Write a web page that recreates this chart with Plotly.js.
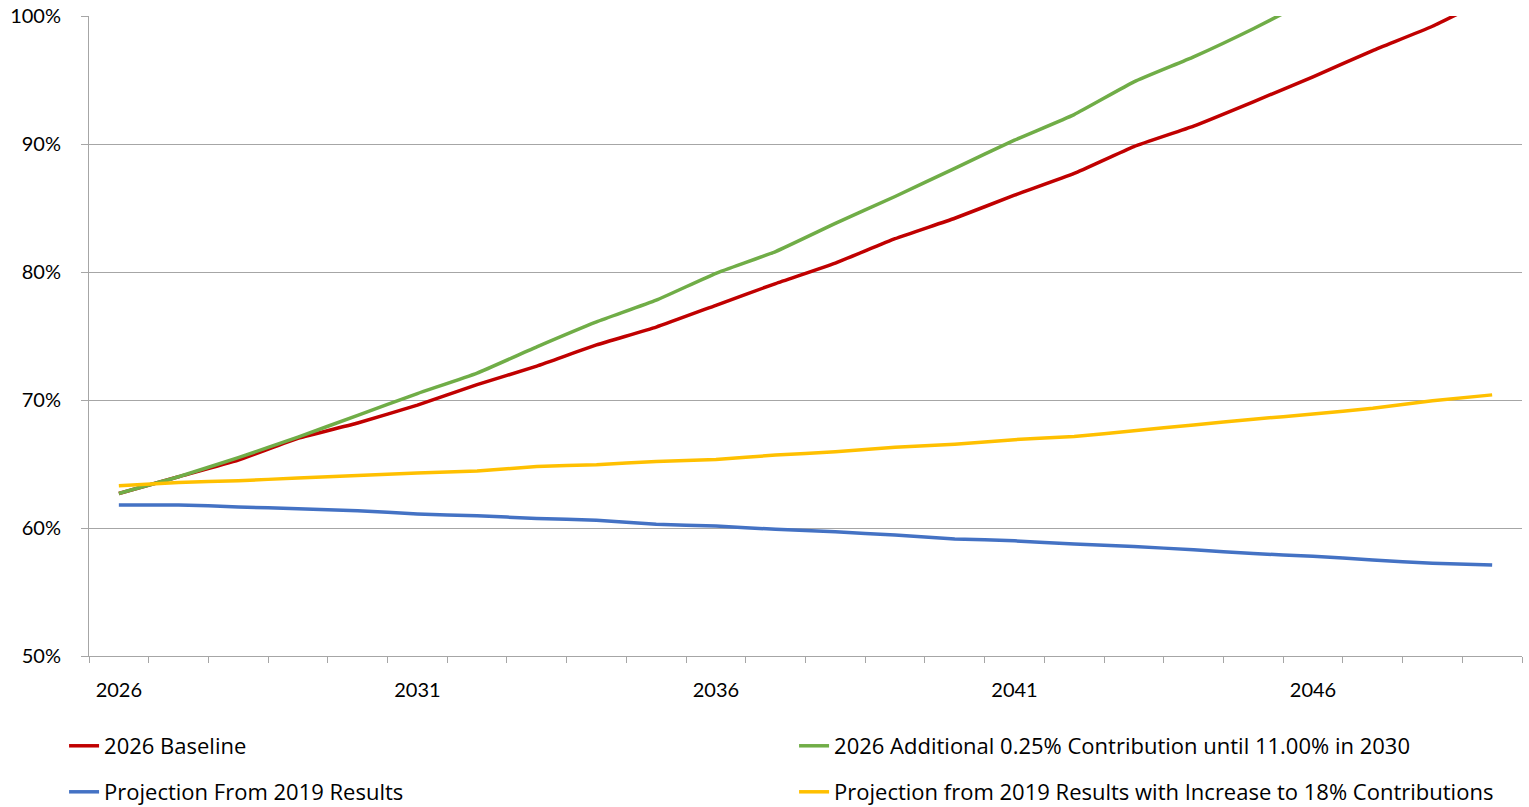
<!DOCTYPE html>
<html>
<head>
<meta charset="utf-8">
<script src="https://cdn.plot.ly/plotly-3.0.1.min.js"></script>
<style>html,body{margin:0;padding:0;background:#fff;}#chart{width:1529px;height:807px;}</style>
</head>
<body>
<div id="chart"></div>
<script>
const years = [2026,2027,2028,2029,2030,2031,2032,2033,2034,2035,2036,2037,2038,2039,2040,2041,2042,2043,2044,2045,2046,2047,2048,2049];
const tickYears = [2026,2031,2036,2041,2046];

const baseline2026 = [62.7,64.0,65.3,67.0,68.2,69.6,71.2,72.65,74.3,75.7,77.4,79.1,80.7,82.6,84.2,86.0,87.7,89.8,91.4,93.3,95.25,97.3,99.2,101.5];
const additional2026 = [62.7,64.0,65.5,67.1,68.8,70.5,72.1,74.15,76.1,77.8,79.9,81.6,83.8,85.9,88.1,90.3,92.3,94.85,96.8,99.0,101.4,103.7,106.0,108.3];
const projection2019 = [61.8,61.8,61.65,61.5,61.35,61.1,60.95,60.75,60.6,60.3,60.15,59.9,59.7,59.45,59.15,59.0,58.75,58.55,58.3,58.0,57.8,57.5,57.25,57.1];
const projection2019Increase = [63.3,63.55,63.7,63.9,64.1,64.3,64.45,64.8,64.95,65.2,65.35,65.7,65.95,66.3,66.55,66.9,67.15,67.6,68.05,68.5,68.9,69.35,69.95,70.4];

const names = {
  red: '2026 Baseline',
  green: '2026 Additional 0.25% Contribution until 11.00% in 2030',
  blue: 'Projection From 2019 Results',
  yellow: 'Projection from 2019 Results with Increase to 18% Contributions'
};

const FONT = 'Lato, "Open Sans", sans-serif';
const LEGFONT = '"Open Sans", Lato, sans-serif';
const GRID = '#A6A6A6';

function tr(y, name, color, legend) {
  return {
    x: years, y: y, name: name, type: 'scatter', mode: 'lines',
    line: {color: color, width: 3.5, shape: 'spline', smoothing: 0.4},
    legend: legend, hoverinfo: 'x+y'
  };
}

const data = [
  tr(baseline2026, names.red, '#C00000', 'legend'),
  tr(additional2026, names.green, '#70AD47', 'legend'),
  tr(projection2019, names.blue, '#4472C4', 'legend2'),
  tr(projection2019Increase, names.yellow, '#FFC000', 'legend2')
];

const legendCommon = {
  orientation: 'h', xanchor: 'left', yanchor: 'middle', x: -0.0174,
  font: {family: LEGFONT, size: 22, color: '#000'},
  entrywidth: 685, entrywidthmode: 'pixels',
  bgcolor: 'rgba(0,0,0,0)', traceorder: 'normal'
};

const layout = {
  width: 1529, height: 807,
  margin: {l: 89, r: 7, t: 16, b: 151, autoexpand: false},
  paper_bgcolor: '#fff', plot_bgcolor: '#fff',
  font: {family: FONT, size: 20, color: '#000'},
  showlegend: true,
  legend: Object.assign({}, legendCommon, {y: -0.1406}),
  legend2: Object.assign({}, legendCommon, {y: -0.2125}),
  xaxis: {
    type: 'linear', range: [2025.5, 2049.5],
    tickvals: tickYears, ticktext: tickYears.map(String),
    ticks: '', showgrid: false, zeroline: false,
    showline: true, linecolor: GRID, linewidth: 1,
    ticklabelstandoff: 16,
    tickfont: {family: FONT, size: 20, color: '#000'},
    minor: {ticks: 'outside', tick0: 2025.5, dtick: 1, ticklen: 6, tickcolor: GRID, tickwidth: 1, showgrid: false}
  },
  yaxis: {
    range: [50, 100], dtick: 10, tick0: 50, ticksuffix: '%',
    showgrid: true, gridcolor: GRID, gridwidth: 1, zeroline: false,
    showline: true, linecolor: GRID, linewidth: 1,
    ticks: 'outside', ticklen: 7, tickcolor: GRID, tickwidth: 1,
    ticklabelstandoff: 16,
    tickfont: {family: FONT, size: 20, color: '#000'}
  }
};

Plotly.newPlot('chart', data, layout, {displayModeBar: false, staticPlot: false});
</script>
</body>
</html>
